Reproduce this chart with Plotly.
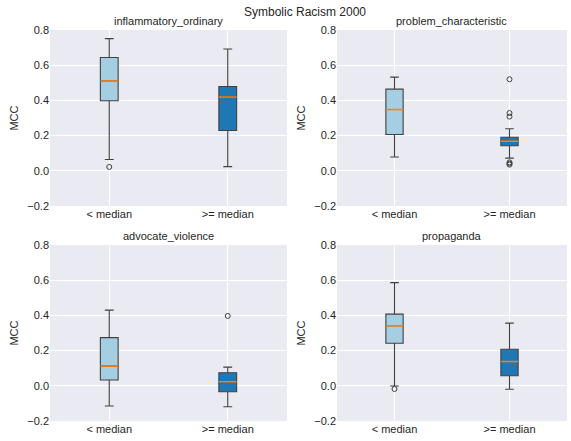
import plotly.graph_objects as go

# ---- data ----
panels = ["inflammatory_ordinary", "problem_characteristic", "advocate_violence", "propaganda"]
groups = ["< median", ">= median"]

q1 = {
    "inflammatory_ordinary": [0.398, 0.229],
    "problem_characteristic": [0.206, 0.142],
    "advocate_violence": [0.033, -0.034],
    "propaganda": [0.242, 0.057],
}
median = {
    "inflammatory_ordinary": [0.510, 0.419],
    "problem_characteristic": [0.348, 0.168],
    "advocate_violence": [0.112, 0.023],
    "propaganda": [0.341, 0.138],
}
q3 = {
    "inflammatory_ordinary": [0.644, 0.479],
    "problem_characteristic": [0.464, 0.191],
    "advocate_violence": [0.274, 0.074],
    "propaganda": [0.407, 0.208],
}
lower = {
    "inflammatory_ordinary": [0.064, 0.024],
    "problem_characteristic": [0.078, 0.072],
    "advocate_violence": [-0.115, -0.119],
    "propaganda": [-0.001, -0.020],
}
upper = {
    "inflammatory_ordinary": [0.751, 0.692],
    "problem_characteristic": [0.532, 0.239],
    "advocate_violence": [0.430, 0.106],
    "propaganda": [0.586, 0.356],
}
outliers = {
    "inflammatory_ordinary": [[0.022], []],
    "problem_characteristic": [[], [0.520, 0.328, 0.308, 0.048, 0.041, 0.035]],
    "advocate_violence": [[], [0.397]],
    "propaganda": [[-0.018], []],
}

fills = ["#a6cee3", "#1f78b4"]
edge = "#404040"
med_color = "#ff7f0e"
positions = [1, 2]
box_w = 0.15

W, H = 571, 441
xdom = [[50 / W, 287 / W], [337 / W, 567 / W]]
ydom = [[1 - 206 / H, 1 - 30 / H], [1 - 421 / H, 1 - 245 / H]]

fig = go.Figure()
font_fam = "Liberation Sans, Arial, sans-serif"
txt = "#262626"

for i, p in enumerate(panels):
    r, c = divmod(i, 2)
    xa = "x" if i == 0 else f"x{i+1}"
    ya = "y" if i == 0 else f"y{i+1}"
    for g in range(2):
        pos = positions[g]
        fig.add_trace(go.Box(
            x=[pos], q1=[q1[p][g]], median=[median[p][g]], q3=[q3[p][g]],
            lowerfence=[lower[p][g]], upperfence=[upper[p][g]],
            width=box_w, whiskerwidth=0.5, fillcolor=fills[g],
            line=dict(color=edge, width=1.1), boxpoints=False,
            xaxis=xa, yaxis=ya, showlegend=False, hoverinfo="skip",
        ))
        fig.add_trace(go.Scatter(
            x=[pos - box_w / 2, pos + box_w / 2], y=[median[p][g]] * 2,
            mode="lines", line=dict(color=med_color, width=1.5),
            xaxis=xa, yaxis=ya, showlegend=False, hoverinfo="skip",
        ))
        if outliers[p][g]:
            fig.add_trace(go.Scatter(
                x=[pos] * len(outliers[p][g]), y=outliers[p][g], mode="markers",
                marker=dict(symbol="circle-open", size=5, color=edge, line=dict(width=1)),
                xaxis=xa, yaxis=ya, showlegend=False, hoverinfo="skip",
            ))
    axis_x = dict(domain=xdom[c], anchor=ya, range=[0.5, 2.5], tickvals=positions,
                  ticktext=groups, showgrid=True, gridcolor="white", gridwidth=1,
                  zeroline=False, ticks="", automargin=False,
                  tickfont=dict(size=11, color=txt, family=font_fam))
    axis_y = dict(domain=ydom[r], anchor=xa, range=[-0.2, 0.8], tickvals=[-0.2, 0, 0.2, 0.4, 0.6, 0.8],
                  tickformat=".1f", showgrid=True, gridcolor="white", gridwidth=1,
                  zeroline=False, ticks="", automargin=False,
                  tickfont=dict(size=11, color=txt, family=font_fam),
                  title=dict(text="MCC", font=dict(size=11, color=txt, family=font_fam), standoff=6))
    fig.layout["xaxis" if i == 0 else f"xaxis{i+1}"] = axis_x
    fig.layout["yaxis" if i == 0 else f"yaxis{i+1}"] = axis_y
    fig.add_annotation(text=p, xref="paper", yref="paper",
                       x=(xdom[c][0] + xdom[c][1]) / 2, y=ydom[r][1],
                       yanchor="bottom", xanchor="center", showarrow=False, yshift=1,
                       font=dict(size=11, color=txt, family=font_fam))

fig.add_annotation(text="Symbolic Racism 2000", xref="paper", yref="paper",
                   x=305 / W, y=1 - 12 / H, xanchor="center", yanchor="middle", showarrow=False,
                   font=dict(size=12, color=txt, family=font_fam))

fig.update_layout(width=W, height=H, margin=dict(l=0, r=0, t=0, b=0),
                  paper_bgcolor="white", plot_bgcolor="#EAEAF2",
                  font=dict(family=font_fam, color=txt))

fig.write_html("out.html", config={"displayModeBar": False},
               post_script="document.body.style.margin='0';document.body.style.overflow='hidden';")
